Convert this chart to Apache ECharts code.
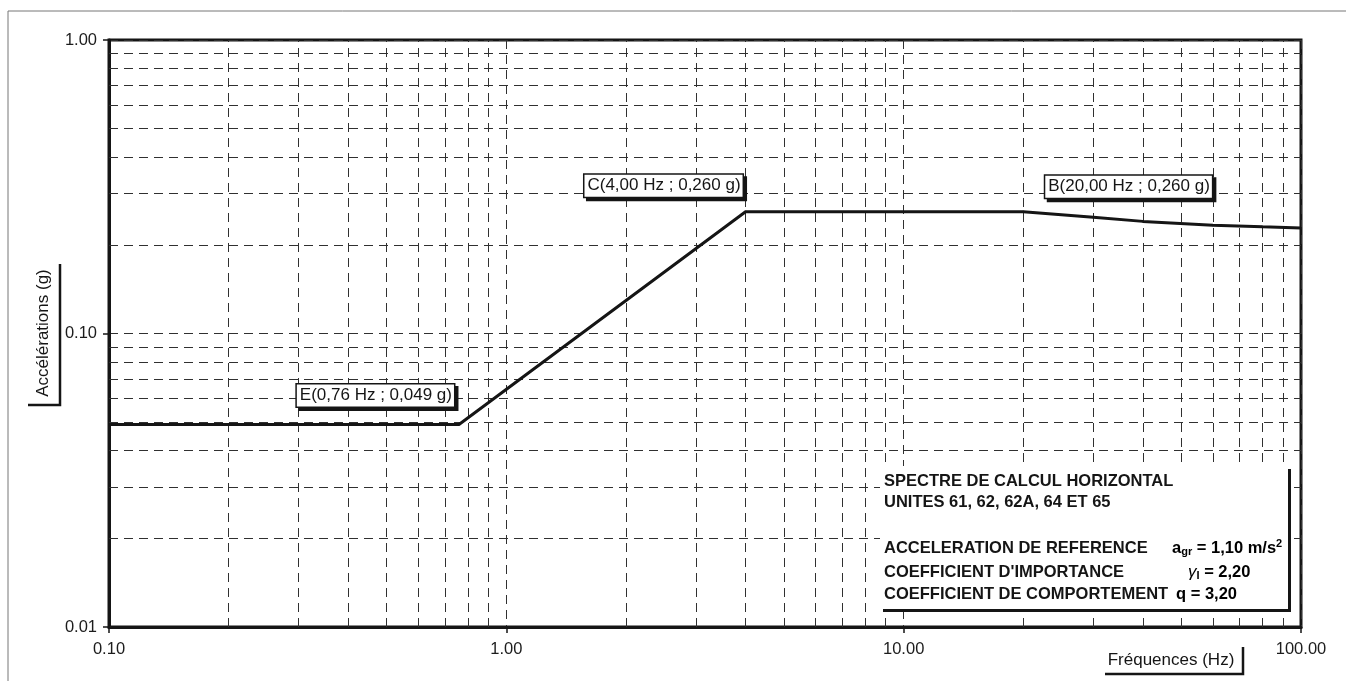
<!DOCTYPE html>
<html>
<head>
<meta charset="utf-8">
<script src="https://cdn.jsdelivr.net/npm/echarts@6/dist/echarts.min.js"></script>
<style>
    html, body { margin: 0; padding: 0; background: #fff; }
    #spectre { width: 1346px; height: 681px; }
</style>
</head>
<body>
<div id="spectre"></div>
<script>
// points du spectre (Hz, g)
var freq = [0.1, 0.76, 4, 20, 30, 40, 60, 80, 100];
var accel = [0.049, 0.049, 0.26, 0.26, 0.249, 0.241, 0.234, 0.231, 0.229];
// etiquettes des points caracteristiques
var pointLabels = ['', 'E(0,76 Hz ; 0,049 g)', 'C(4,00 Hz ; 0,260 g)', 'B(20,00 Hz ; 0,260 g)', '', '', '', '', ''];
// decades des axes (graduations mineures 2..9)
var xDecades = [0.1, 1, 10];
var yDecades = [0.01, 0.1];
// textes du cartouche
var boxLines = ['SPECTRE DE CALCUL HORIZONTAL', 'UNITES 61, 62, 62A, 64 ET 65', '',
    'ACCELERATION DE REFERENCE', "COEFFICIENT D'IMPORTANCE", 'COEFFICIENT DE COMPORTEMENT'];

(function () {
    var dom = document.getElementById("spectre");
    var myChart = echarts.init(dom);

    var font = "'Liberation Sans', Arial, sans-serif";
    var ink = '#151515';
    var gridColor = '#303030';
    var dash = [9, 6];

    // lignes de grille mineures
    var minorLines = [];
    xDecades.forEach(function (d) {
        for (var k = 2; k <= 9; k++) minorLines.push({ xAxis: +(d * k).toPrecision(3) });
    });
    yDecades.forEach(function (d) {
        for (var k = 2; k <= 9; k++) minorLines.push({ yAxis: +(d * k).toPrecision(3) });
    });

    var labelBox = {
        show: true,
        fontFamily: font,
        fontSize: 17,
        color: ink,
        backgroundColor: '#fff',
        borderColor: ink,
        borderWidth: 1.5,
        padding: [3, 2, 2, 3],
        shadowColor: ink,
        shadowOffsetX: 3,
        shadowOffsetY: 3,
        shadowBlur: 0
    };
    var labelPos = {
        1: { position: 'left', distance: 4, offset: [0, -29] },
        2: { position: 'left', distance: 2, offset: [0, -26] },
        3: { position: 'right', distance: 21, offset: [0, -25] }
    };

    var seriesData = freq.map(function (f, i) {
        var item = { value: [f, accel[i]] };
        if (pointLabels[i]) {
            item.label = Object.assign({}, labelBox, labelPos[i], { formatter: pointLabels[i] });
        }
        return item;
    });

    var axisText = { fontFamily: font, fontSize: 16.5, color: '#1c1c1c' };

    var texts = [];
    var ys = [481, 502, 525, 548, 572, 594];
    boxLines.forEach(function (t, i) {
        if (!t) return;
        texts.push({
            type: 'text', x: 884, y: ys[i], z: 102,
            style: { text: t, font: 'bold 16.5px ' + font, fill: ink, verticalAlign: 'middle' }
        });
    });
    var rich = {
        b: { fontFamily: font, fontSize: 16.5, fontWeight: 'bold', color: ink },
        g: { fontFamily: font, fontSize: 17, fontStyle: 'italic', color: ink },
        sub: { fontFamily: font, fontSize: 11, fontWeight: 'bold', color: ink, padding: [7, 0, 0, 0] },
        sup: { fontFamily: font, fontSize: 11, fontWeight: 'bold', color: ink, padding: [0, 0, 8, 0] }
    };
    texts.push({ type: 'text', x: 1172, y: 548, z: 102,
        style: { text: '{b|a}{sub|gr}{b| = 1,10 m/s}{sup|2}', rich: rich, verticalAlign: 'middle' } });
    texts.push({ type: 'text', x: 1188, y: 572, z: 102,
        style: { text: '{g|γ}{sub|I}{b| = 2,20}', rich: rich, verticalAlign: 'middle' } });
    texts.push({ type: 'text', x: 1176, y: 594, z: 102,
        style: { text: '{b|q = 3,20}', rich: rich, verticalAlign: 'middle' } });

    var option = {
        backgroundColor: '#fff',
        animation: false,
        grid: {
            left: 109,
            top: 40,
            right: 45,
            bottom: 54,
            show: true,
            borderColor: ink,
            borderWidth: 3
        },
        xAxis: {
            type: 'log',
            logBase: 10,
            min: 0.1,
            max: 100,
            axisLine: { lineStyle: { color: ink, width: 3 } },
            axisTick: { show: true, length: 6, lineStyle: { color: ink, width: 1.5 } },
            axisLabel: Object.assign({ margin: 14, formatter: function (v) { return v.toFixed(2); } }, axisText),
            splitLine: { show: true, lineStyle: { color: gridColor, type: dash, width: 1 } }
        },
        yAxis: {
            type: 'log',
            logBase: 10,
            min: 0.01,
            max: 1,
            axisLine: { lineStyle: { color: ink, width: 3 } },
            axisTick: { show: true, length: 6, lineStyle: { color: ink, width: 1.5 } },
            axisLabel: Object.assign({ margin: 12, formatter: function (v) { return v.toFixed(2); } }, axisText),
            splitLine: { show: true, lineStyle: { color: gridColor, type: dash, width: 1 } }
        },
        series: [
            {
                // grille mineure
                type: 'line',
                z: 1,
                silent: true,
                data: [[0.1, 0.01]],
                symbol: 'none',
                lineStyle: { opacity: 0 },
                markLine: {
                    silent: true,
                    symbol: 'none',
                    label: { show: false },
                    lineStyle: { color: gridColor, type: dash, width: 1 },
                    data: minorLines
                }
            },
            {
                type: 'line',
                z: 5,
                data: seriesData,
                symbol: 'circle',
                symbolSize: 2,
                showSymbol: true,
                itemStyle: { color: ink },
                lineStyle: { color: ink, width: 3 },
                emphasis: { disabled: true }
            }
        ],
        graphic: [
            // cadre exterieur
            { type: 'line', shape: { x1: 8, y1: 11, x2: 1346, y2: 11 }, style: { stroke: '#777', lineWidth: 1 } },
            { type: 'line', shape: { x1: 8, y1: 11, x2: 8, y2: 681 }, style: { stroke: '#777', lineWidth: 1 } },
            // titre axe Y
            {
                type: 'text', x: 43, y: 333, rotation: Math.PI / 2, z: 10,
                style: { text: 'Accélérations (g)', font: '17px ' + font, fill: ink, align: 'center', verticalAlign: 'middle' }
            },
            { type: 'polyline', shape: { points: [[60, 264], [60, 405], [28, 405]] }, style: { stroke: ink, lineWidth: 2.5, fill: null } },
            // titre axe X
            {
                type: 'text', x: 1171, y: 660, z: 10,
                style: { text: 'Fréquences (Hz)', font: '17px ' + font, fill: ink, align: 'center', verticalAlign: 'middle' }
            },
            { type: 'polyline', shape: { points: [[1243, 647], [1243, 674], [1105, 674]] }, style: { stroke: ink, lineWidth: 2.5, fill: null } },
            // cartouche
            { type: 'rect', z: 100, shape: { x: 883, y: 469, width: 408, height: 143 }, style: { fill: ink } },
            { type: 'rect', z: 101, shape: { x: 880, y: 466, width: 408, height: 143 }, style: { fill: '#fff' } }
        ].concat(texts)
    };

    if (option && typeof option === 'object') {
        myChart.setOption(option);
    }

    window.addEventListener("resize", function () {
        myChart.resize();
    });
})();
</script>
</body>
</html>
